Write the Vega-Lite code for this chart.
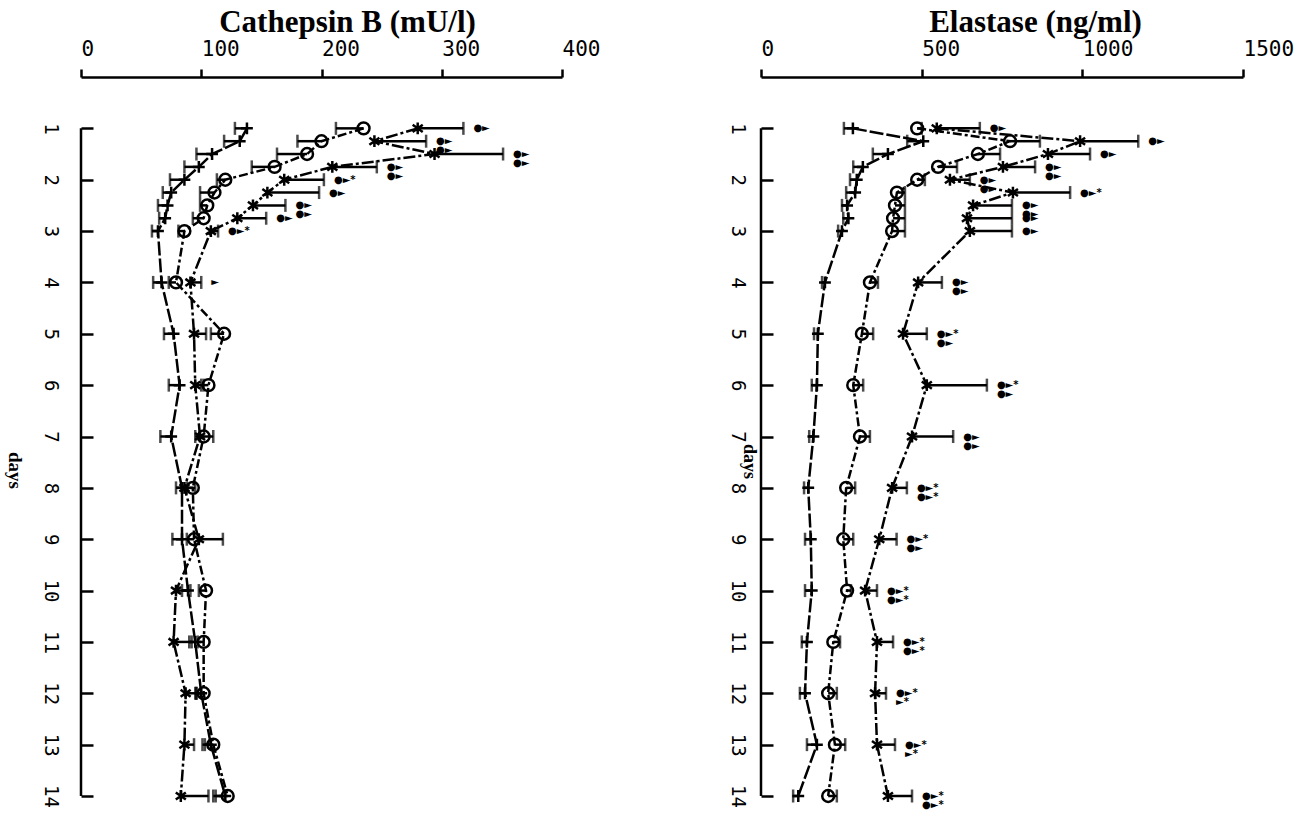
{
  "$schema": "https://vega.github.io/schema/vega-lite/v6.json",
  "background": "white",
  "padding": {"left": 4, "top": 6, "right": 0, "bottom": 0},
  "bounds": "flush",
  "spacing": 199,
  "config": {
    "view": {"stroke": null},
    "axis": {"domainColor": "black", "domainWidth": 2.5, "tickColor": "black", "tickWidth": 2.5, "labelColor": "black", "titleColor": "black", "grid": false, "labelOverlap": false, "labelFlush": false, "labelFont": "DejaVu Sans Mono"}
  },
  "datasets": {
    "cath": [
      {"day": 1, "series": "A", "value": 138, "err": 128},
      {"day": 1.25, "series": "A", "value": 132, "err": 119},
      {"day": 1.5, "series": "A", "value": 109, "err": 96},
      {"day": 1.75, "series": "A", "value": 98, "err": 86},
      {"day": 2, "series": "A", "value": 86, "err": 74},
      {"day": 2.25, "series": "A", "value": 75, "err": 68},
      {"day": 2.5, "series": "A", "value": 72, "err": 64},
      {"day": 2.75, "series": "A", "value": 70, "err": 65},
      {"day": 3, "series": "A", "value": 64, "err": 59},
      {"day": 4, "series": "A", "value": 67, "err": 60},
      {"day": 5, "series": "A", "value": 77, "err": 69},
      {"day": 6, "series": "A", "value": 82, "err": 73},
      {"day": 7, "series": "A", "value": 75, "err": 66},
      {"day": 8, "series": "A", "value": 84, "err": 79},
      {"day": 9, "series": "A", "value": 84, "err": 76},
      {"day": 10, "series": "A", "value": 89, "err": 84},
      {"day": 11, "series": "A", "value": 95, "err": 90},
      {"day": 12, "series": "A", "value": 100, "err": 95},
      {"day": 13, "series": "A", "value": 108, "err": 101},
      {"day": 14, "series": "A", "value": 120, "err": 112},
      {"day": 1, "series": "B", "value": 235, "err": 212},
      {"day": 1.25, "series": "B", "value": 200, "err": 180},
      {"day": 1.5, "series": "B", "value": 188, "err": 163},
      {"day": 1.75, "series": "B", "value": 161, "err": 142},
      {"day": 2, "series": "B", "value": 120, "err": 113},
      {"day": 2.25, "series": "B", "value": 111, "err": 99},
      {"day": 2.5, "series": "B", "value": 105, "err": 99},
      {"day": 2.75, "series": "B", "value": 102, "err": 93},
      {"day": 3, "series": "B", "value": 86, "err": 81},
      {"day": 4, "series": "B", "value": 79, "err": 73},
      {"day": 5, "series": "B", "value": 119, "err": 108},
      {"day": 6, "series": "B", "value": 106, "err": 100},
      {"day": 7, "series": "B", "value": 102, "err": 95},
      {"day": 8, "series": "B", "value": 93, "err": 88},
      {"day": 9, "series": "B", "value": 94, "err": 88},
      {"day": 10, "series": "B", "value": 104, "err": 98},
      {"day": 11, "series": "B", "value": 102, "err": 97},
      {"day": 12, "series": "B", "value": 102, "err": 96},
      {"day": 13, "series": "B", "value": 110, "err": 103},
      {"day": 14, "series": "B", "value": 122, "err": 110},
      {"day": 1, "series": "C", "value": 280, "err": 318, "sig": "●►"},
      {"day": 1.25, "series": "C", "value": 244, "err": 287, "sig": "●►\n●►"},
      {"day": 1.5, "series": "C", "value": 294, "err": 351, "sig": "●►\n●►"},
      {"day": 1.75, "series": "C", "value": 209, "err": 246, "sig": "●►\n●►"},
      {"day": 2, "series": "C", "value": 169, "err": 202, "sig": "●►*"},
      {"day": 2.25, "series": "C", "value": 155, "err": 198, "sig": "●►"},
      {"day": 2.5, "series": "C", "value": 143, "err": 170, "sig": "●►\n●►"},
      {"day": 2.75, "series": "C", "value": 130, "err": 154, "sig": "●►"},
      {"day": 3, "series": "C", "value": 108, "err": 114, "sig": "●►*"},
      {"day": 4, "series": "C", "value": 91, "err": 100, "sig": "►"},
      {"day": 5, "series": "C", "value": 94, "err": 104},
      {"day": 6, "series": "C", "value": 95, "err": 102},
      {"day": 7, "series": "C", "value": 99, "err": 110},
      {"day": 8, "series": "C", "value": 86, "err": 95},
      {"day": 9, "series": "C", "value": 98, "err": 118},
      {"day": 10, "series": "C", "value": 79, "err": 91},
      {"day": 11, "series": "C", "value": 77, "err": 92},
      {"day": 12, "series": "C", "value": 87, "err": 96},
      {"day": 13, "series": "C", "value": 86, "err": 94},
      {"day": 14, "series": "C", "value": 83, "err": 106}
    ],
    "elas": [
      {"day": 1, "series": "A", "value": 286, "err": 258},
      {"day": 1.25, "series": "A", "value": 505, "err": 455},
      {"day": 1.5, "series": "A", "value": 395, "err": 348},
      {"day": 1.75, "series": "A", "value": 317, "err": 287},
      {"day": 2, "series": "A", "value": 298, "err": 277},
      {"day": 2.25, "series": "A", "value": 293, "err": 265},
      {"day": 2.5, "series": "A", "value": 268, "err": 252},
      {"day": 2.75, "series": "A", "value": 272, "err": 256},
      {"day": 3, "series": "A", "value": 252, "err": 240},
      {"day": 4, "series": "A", "value": 199, "err": 190},
      {"day": 5, "series": "A", "value": 177, "err": 165},
      {"day": 6, "series": "A", "value": 174, "err": 158},
      {"day": 7, "series": "A", "value": 163, "err": 150},
      {"day": 8, "series": "A", "value": 147, "err": 134},
      {"day": 9, "series": "A", "value": 155, "err": 137},
      {"day": 10, "series": "A", "value": 158, "err": 137},
      {"day": 11, "series": "A", "value": 143, "err": 127},
      {"day": 12, "series": "A", "value": 137, "err": 121},
      {"day": 13, "series": "A", "value": 174, "err": 143},
      {"day": 14, "series": "A", "value": 116, "err": 100},
      {"day": 1, "series": "B", "value": 486, "err": 500},
      {"day": 1.25, "series": "B", "value": 775, "err": 868},
      {"day": 1.5, "series": "B", "value": 675, "err": 744},
      {"day": 1.75, "series": "B", "value": 551, "err": 610},
      {"day": 2, "series": "B", "value": 486, "err": 510},
      {"day": 2.25, "series": "B", "value": 423, "err": 448},
      {"day": 2.5, "series": "B", "value": 417, "err": 448},
      {"day": 2.75, "series": "B", "value": 411, "err": 448},
      {"day": 3, "series": "B", "value": 408, "err": 448},
      {"day": 4, "series": "B", "value": 339, "err": 364},
      {"day": 5, "series": "B", "value": 314, "err": 349},
      {"day": 6, "series": "B", "value": 287, "err": 318},
      {"day": 7, "series": "B", "value": 308, "err": 339},
      {"day": 8, "series": "B", "value": 265, "err": 293},
      {"day": 9, "series": "B", "value": 256, "err": 287},
      {"day": 10, "series": "B", "value": 268, "err": 280},
      {"day": 11, "series": "B", "value": 225, "err": 246},
      {"day": 12, "series": "B", "value": 209, "err": 236},
      {"day": 13, "series": "B", "value": 230, "err": 262},
      {"day": 14, "series": "B", "value": 209, "err": 236},
      {"day": 1, "series": "C", "value": 547, "err": 681, "sig": "●►"},
      {"day": 1.25, "series": "C", "value": 993, "err": 1174, "sig": "●►"},
      {"day": 1.5, "series": "C", "value": 893, "err": 1024, "sig": "●►"},
      {"day": 1.75, "series": "C", "value": 753, "err": 853, "sig": "●►\n●►"},
      {"day": 2, "series": "C", "value": 588, "err": 650, "sig": "●►\n●►"},
      {"day": 2.25, "series": "C", "value": 784, "err": 962, "sig": "●►*"},
      {"day": 2.5, "series": "C", "value": 660, "err": 781, "sig": "●►\n●►"},
      {"day": 2.75, "series": "C", "value": 641, "err": 781, "sig": "●►"},
      {"day": 3, "series": "C", "value": 650, "err": 781, "sig": "●►"},
      {"day": 4, "series": "C", "value": 489, "err": 563, "sig": "●►\n●►"},
      {"day": 5, "series": "C", "value": 442, "err": 516, "sig": "●►*\n●►"},
      {"day": 6, "series": "C", "value": 516, "err": 703, "sig": "●►*\n●►"},
      {"day": 7, "series": "C", "value": 470, "err": 598, "sig": "●►\n●►"},
      {"day": 8, "series": "C", "value": 408, "err": 454, "sig": "●►*\n●►*"},
      {"day": 9, "series": "C", "value": 368, "err": 422, "sig": "●►*\n●►"},
      {"day": 10, "series": "C", "value": 324, "err": 361, "sig": "●►*\n●►*"},
      {"day": 11, "series": "C", "value": 361, "err": 411, "sig": "●►*\n●►*"},
      {"day": 12, "series": "C", "value": 355, "err": 389, "sig": "●►*\n  ►*"},
      {"day": 13, "series": "C", "value": 361, "err": 417, "sig": "●►*\n  ►*"},
      {"day": 14, "series": "C", "value": 395, "err": 470, "sig": "●►*\n●►*"}
    ]
  },
  "hconcat": [
    {
      "width": 481,
      "height": 719,
      "data": {"name": "cath"},
      "layer": [
        {
          "data": {"values": [{}]},
          "mark": {"type": "rule", "color": "black", "strokeWidth": 2.5},
          "encoding": {
            "x": {"datum": 0, "type": "quantitative"},
            "y": {"datum": 1, "type": "quantitative"},
            "y2": {"datum": 14}
          }
        },
        {
          "mark": {"type": "line", "color": "black", "strokeWidth": 2.5},
          "encoding": {
            "x": {"field": "value", "type": "quantitative", "scale": {"domain": [0, 400], "nice": false, "zero": false},
              "axis": {"orient": "top", "title": "Cathepsin B (mU/l)", "values": [0, 100, 200, 300, 400], "format": "d", "tickSize": 8, "labelFontSize": 21, "labelAlign": "left", "labelBaseline": "alphabetic", "labelPadding": 14, "labelAngle": 0, "titleFont": "Liberation Serif", "titleFontSize": 31, "titleFontWeight": "bold", "titleAlign": "center", "titleBaseline": "alphabetic", "titleX": 266, "titleY": -46, "titleAngle": 0}},
            "y": {"field": "day", "type": "quantitative", "scale": {"domain": [0, 14], "reverse": true, "nice": false, "zero": false},
              "axis": {"title": "days", "values": [1, 2, 3, 4, 5, 6, 7, 8, 9, 10, 11, 12, 13, 14], "domain": false, "tickSize": -12, "labelAngle": 90, "labelAlign": "center", "labelBaseline": "middle", "labelPadding": 43, "labelFontSize": 19, "titleAngle": 90, "titleX": -67, "titleY": 393, "titleAlign": "center", "titleBaseline": "middle", "titleFont": "Liberation Serif", "titleFontSize": 19, "titleFontWeight": "bold"}},
            "detail": {"field": "series", "type": "nominal"},
            "order": {"field": "day", "type": "quantitative"},
            "strokeDash": {"field": "series", "type": "nominal", "scale": {"domain": ["A", "B", "C"], "range": [[14, 3], [9, 3, 3, 3], [12, 3, 3, 3]]}, "legend": null}
          }
        },
        {
          "mark": {"type": "rule", "color": "black", "strokeWidth": 2.5},
          "encoding": {
            "x": {"field": "value", "type": "quantitative"},
            "x2": {"field": "err"},
            "y": {"field": "day", "type": "quantitative"}
          }
        },
        {
          "mark": {"type": "tick", "orient": "vertical", "color": "black", "size": 13, "thickness": 2.5},
          "encoding": {
            "x": {"field": "err", "type": "quantitative"},
            "y": {"field": "day", "type": "quantitative"}
          }
        },
        {
          "mark": {"type": "point", "filled": false, "color": "black", "strokeWidth": 2.5, "opacity": 1, "size": 140},
          "encoding": {
            "x": {"field": "value", "type": "quantitative"},
            "y": {"field": "day", "type": "quantitative"},
            "shape": {"field": "series", "type": "nominal", "scale": {"domain": ["A", "B", "C"], "range": ["M-1,0L1,0M0,-1L0,1", "circle", "M0,-1L0,1M-0.85,-0.6L0.85,0.6M-0.85,0.6L0.85,-0.6"]}, "legend": null}
          }
        },
        {
          "transform": [{"filter": "datum.sig"}],
          "mark": {"type": "text", "align": "left", "baseline": "middle", "dx": 10, "fontSize": 10, "lineHeight": 9, "lineBreak": "\n", "font": "DejaVu Sans", "fontWeight": "bold", "color": "black"},
          "encoding": {
            "x": {"field": "err", "type": "quantitative"},
            "y": {"field": "day", "type": "quantitative"},
            "text": {"field": "sig", "type": "nominal"}
          }
        }
      ]
    },
    {
      "width": 482,
      "height": 719,
      "data": {"name": "elas"},
      "layer": [
        {
          "data": {"values": [{}]},
          "mark": {"type": "rule", "color": "black", "strokeWidth": 2.5},
          "encoding": {
            "x": {"datum": 0, "type": "quantitative"},
            "y": {"datum": 1, "type": "quantitative"},
            "y2": {"datum": 14}
          }
        },
        {
          "mark": {"type": "line", "color": "black", "strokeWidth": 2.5},
          "encoding": {
            "x": {"field": "value", "type": "quantitative", "scale": {"domain": [0, 1500], "nice": false, "zero": false},
              "axis": {"orient": "top", "title": "Elastase (ng/ml)", "values": [0, 500, 1000, 1500], "format": "d", "tickSize": 8, "labelFontSize": 21, "labelAlign": "left", "labelBaseline": "alphabetic", "labelPadding": 14, "labelAngle": 0, "titleFont": "Liberation Serif", "titleFontSize": 31, "titleFontWeight": "bold", "titleAlign": "center", "titleBaseline": "alphabetic", "titleX": 274, "titleY": -46, "titleAngle": 0}},
            "y": {"field": "day", "type": "quantitative", "scale": {"domain": [0, 14], "reverse": true, "nice": false, "zero": false},
              "axis": {"title": "days", "values": [1, 2, 3, 4, 5, 6, 7, 8, 9, 10, 11, 12, 13, 14], "domain": false, "tickSize": -12, "labelAngle": 90, "labelAlign": "center", "labelBaseline": "middle", "labelPadding": 36, "labelFontSize": 19, "titleAngle": 90, "titleX": -13, "titleY": 384, "titleAlign": "center", "titleBaseline": "middle", "titleFont": "Liberation Serif", "titleFontSize": 18, "titleFontWeight": "bold"}},
            "detail": {"field": "series", "type": "nominal"},
            "order": {"field": "day", "type": "quantitative"},
            "strokeDash": {"field": "series", "type": "nominal", "scale": {"domain": ["A", "B", "C"], "range": [[14, 3], [9, 3, 3, 3], [12, 3, 3, 3]]}, "legend": null}
          }
        },
        {
          "mark": {"type": "rule", "color": "black", "strokeWidth": 2.5},
          "encoding": {
            "x": {"field": "value", "type": "quantitative"},
            "x2": {"field": "err"},
            "y": {"field": "day", "type": "quantitative"}
          }
        },
        {
          "mark": {"type": "tick", "orient": "vertical", "color": "black", "size": 13, "thickness": 2.5},
          "encoding": {
            "x": {"field": "err", "type": "quantitative"},
            "y": {"field": "day", "type": "quantitative"}
          }
        },
        {
          "mark": {"type": "point", "filled": false, "color": "black", "strokeWidth": 2.5, "opacity": 1, "size": 140},
          "encoding": {
            "x": {"field": "value", "type": "quantitative"},
            "y": {"field": "day", "type": "quantitative"},
            "shape": {"field": "series", "type": "nominal", "scale": {"domain": ["A", "B", "C"], "range": ["M-1,0L1,0M0,-1L0,1", "circle", "M0,-1L0,1M-0.85,-0.6L0.85,0.6M-0.85,0.6L0.85,-0.6"]}, "legend": null}
          }
        },
        {
          "transform": [{"filter": "datum.sig"}],
          "mark": {"type": "text", "align": "left", "baseline": "middle", "dx": 10, "fontSize": 10, "lineHeight": 9, "lineBreak": "\n", "font": "DejaVu Sans", "fontWeight": "bold", "color": "black"},
          "encoding": {
            "x": {"field": "err", "type": "quantitative"},
            "y": {"field": "day", "type": "quantitative"},
            "text": {"field": "sig", "type": "nominal"}
          }
        }
      ]
    }
  ]
}
